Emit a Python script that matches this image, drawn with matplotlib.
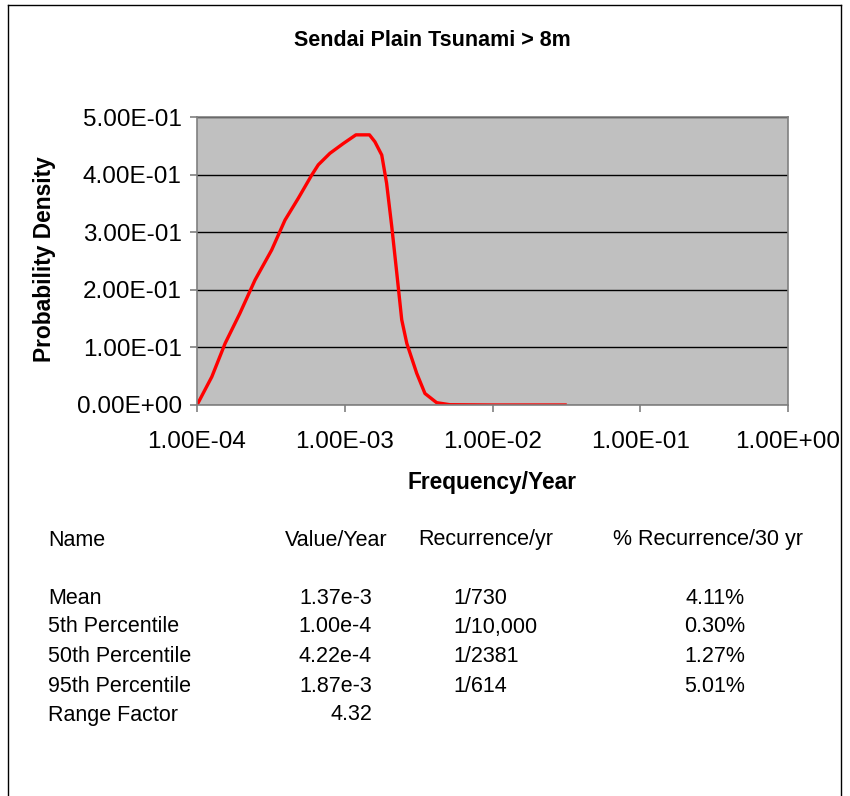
import matplotlib
matplotlib.use("Agg")
import matplotlib.pyplot as plt
import matplotlib.ticker as mticker

plt.rcParams['font.family'] = ['Liberation Sans', 'DejaVu Sans']

# curve
freq = [1.0e-4, 1.26e-4, 1.55e-4, 1.95e-4, 2.47e-4, 3.2e-4, 3.94e-4, 4.85e-4,
        5.97e-4, 6.62e-4, 7.94e-4, 9.78e-4, 1.19e-3, 1.47e-3, 1.60e-3, 1.78e-3,
        1.92e-3, 2.08e-3, 2.25e-3, 2.43e-3, 2.63e-3, 3.07e-3, 3.49e-3, 4.19e-3,
        5.15e-3, 1.0e-2, 3.1e-2]
density = [0.0, 0.049, 0.107, 0.159, 0.217, 0.269, 0.321, 0.359,
           0.399, 0.417, 0.437, 0.454, 0.469, 0.469, 0.457, 0.434,
           0.385, 0.31, 0.229, 0.148, 0.107, 0.055, 0.020, 0.004,
           0.0005, 0.0, 0.0]

x_ticks = [1e-4, 1e-3, 1e-2, 1e-1, 1e0]
x_tick_labels = ["1.00E-04", "1.00E-03", "1.00E-02", "1.00E-01", "1.00E+00"]
y_ticks = [0.0, 0.1, 0.2, 0.3, 0.4, 0.5]
y_tick_labels = ["0.00E+00", "1.00E-01", "2.00E-01", "3.00E-01", "4.00E-01", "5.00E-01"]

header = ["Name", "Value/Year", "Recurrence/yr", "% Recurrence/30 yr"]
row_names = ["Mean", "5th Percentile", "50th Percentile", "95th Percentile", "Range Factor"]
values = ["1.37e-3", "1.00e-4", "4.22e-4", "1.87e-3", "4.32"]
recurrence = ["1/730", "1/10,000", "1/2381", "1/614", ""]
pct30 = ["4.11%", "0.30%", "1.27%", "5.01%", ""]

W, H = 850, 796
fig = plt.figure(figsize=(8.5, 7.96), dpi=100)

# frame around the whole chart
fig.add_artist(plt.Line2D([8 / W, 8 / W], [0, 1 - 5 / H], color='black', lw=1))
fig.add_artist(plt.Line2D([8 / W, 841 / W], [1 - 5 / H, 1 - 5 / H], color='black', lw=1))
fig.add_artist(plt.Line2D([841 / W, 841 / W], [0, 1 - 5 / H], color='black', lw=1))

ax = fig.add_axes([197 / W, 1 - 405 / H, (788 - 197) / W, (405 - 117) / H])
ax.set_facecolor('#C0C0C0')
ax.plot(freq, density, color='#FF0000', lw=2.4, solid_joinstyle='round')
ax.set_xscale('log')
ax.set_xlim(1e-4, 1e0)
ax.set_ylim(0, 0.5)
ax.set_xticks(x_ticks)
ax.set_xticklabels(x_tick_labels)
ax.xaxis.set_minor_locator(mticker.NullLocator())
ax.set_yticks(y_ticks)
ax.set_yticklabels(y_tick_labels)
ax.yaxis.grid(True, color='black', lw=1)
ax.set_axisbelow(True)
for s in ax.spines.values():
    s.set_color('#808080')
    s.set_linewidth(1.2)
ax.tick_params(axis='both', labelsize=17.5, color='#808080', length=5, width=1.2)
ax.tick_params(axis='x', pad=14)
ax.tick_params(axis='y', pad=6)

fig.text(432 / W, 1 - 40 / H, "Sendai Plain Tsunami > 8m", ha='center', va='center',
         fontsize=15.5, fontweight='bold')
fig.text(45 / W, 1 - 259 / H, "Probability Density", ha='center', va='center',
         rotation=90, fontsize=16.4, fontweight='bold')
fig.text(492 / W, 1 - 483 / H, "Frequency/Year", ha='center', va='center',
         fontsize=16.4, fontweight='bold')

# statistics table under the chart
fs = 15.5
fig.text(48 / W, 1 - 540 / H, header[0], ha='left', va='center', fontsize=fs)
fig.text(388 / W, 1 - 540 / H, header[1], ha='right', va='center', fontsize=fs)
fig.text(418 / W, 1 - 540 / H, header[2], ha='left', va='center', fontsize=fs)
fig.text(613 / W, 1 - 540 / H, header[3], ha='left', va='center', fontsize=fs)
row_y = [598, 627, 657, 686, 715]
for i in range(len(row_names)):
    y = 1 - row_y[i] / H
    fig.text(48 / W, y, row_names[i], ha='left', va='center', fontsize=fs)
    fig.text(372 / W, y, values[i], ha='right', va='center', fontsize=fs)
    fig.text(453 / W, y, recurrence[i], ha='left', va='center', fontsize=fs)
    fig.text(745 / W, y, pct30[i], ha='right', va='center', fontsize=fs)

fig.savefig("out.png", dpi=100)
